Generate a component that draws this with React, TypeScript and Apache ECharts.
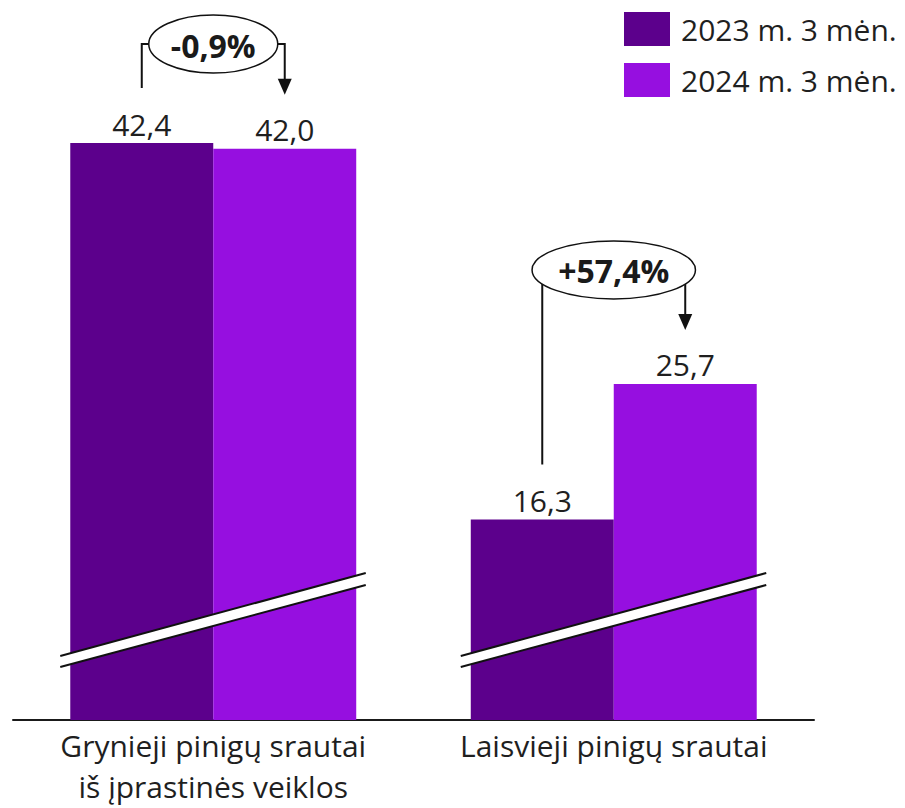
import React, { useEffect, useRef } from "react";
import * as echarts from "echarts";

const categories = ["Grynieji pinigų srautai\niš įprastinės veiklos", "Laisvieji pinigų srautai"];
const seriesNames = ["2023 m. 3 mėn.", "2024 m. 3 mėn."];
const values2023 = [42.4, 16.3];
const values2024 = [42.0, 25.7];
const changeLabels = ["-0,9%", "+57,4%"];

const COLORS = ["#5c008c", "#960fe0"];
const FONT = "Open Sans";
const TEXT = "#1f1f1f";
const AXIS_MIN = 2.4;
const AXIS_MAX = 42.4;
const GAP = 0.286;
// annotation layout (pixels)
const ELLIPSE_OFFSET = [-99, -114];
const ELLIPSE_RX = [64.5, 81.7];
const ELLIPSE_RY = 29;

const fmt = (v: number) => v.toFixed(1).replace(".", ",");

export default function App() {
  const ref = useRef<HTMLDivElement>(null);
  useEffect(() => {
    document.body.style.margin = "0";
    const chart = echarts.init(ref.current!, null, { renderer: "svg" });
    const barLabel = {
      show: true,
      position: "top",
      distance: 4,
      fontSize: 30,
      fontFamily: FONT,
      color: TEXT,
      formatter: (p: any) => fmt(p.value),
    };
    chart.setOption({
      animation: false,
      backgroundColor: "#ffffff",
      grid: { left: 13, right: 91, top: 143, bottom: 88, containLabel: false },
      legend: {
        orient: "vertical",
        left: 624,
        top: 12,
        itemWidth: 46,
        itemHeight: 34,
        itemGap: 17,
        icon: "rect",
        padding: 0,
        textStyle: { fontSize: 30, fontFamily: FONT, color: TEXT, padding: [0, 0, 0, 6] },
        data: seriesNames,
      },
      xAxis: {
        type: "category",
        data: categories,
        axisLine: { show: true, lineStyle: { color: "#1a1a1a", width: 2 } },
        axisTick: { show: false },
        axisLabel: { fontSize: 30, fontFamily: FONT, color: TEXT, lineHeight: 41, margin: 5, interval: 0 },
      },
      yAxis: { type: "value", min: AXIS_MIN, max: AXIS_MAX, show: false, splitLine: { show: false } },
      series: [
        {
          name: seriesNames[0],
          type: "bar",
          data: values2023,
          barCategoryGap: (GAP * 100).toFixed(1) + "%",
          barGap: "0%",
          itemStyle: { color: COLORS[0] },
          label: barLabel,
        },
        {
          name: seriesNames[1],
          type: "bar",
          data: values2024,
          barCategoryGap: (GAP * 100).toFixed(1) + "%",
          barGap: "0%",
          itemStyle: { color: COLORS[1] },
          label: barLabel,
        },
      ],
    });

    const cx0 = chart.convertToPixel({ xAxisIndex: 0 }, 0) as number;
    const cx1 = chart.convertToPixel({ xAxisIndex: 0 }, 1) as number;
    const band = cx1 - cx0;
    const barW = (band * (1 - GAP)) / 2;
    const yOf = (v: number) => chart.convertToPixel({ yAxisIndex: 0 }, v) as number;
    const yb = yOf(AXIS_MIN);

    const graphics: any[] = [];
    categories.forEach((_, i) => {
      const c = i === 0 ? cx0 : cx1;
      const x1 = c - barW / 2;
      const x2 = c + barW / 2;
      const t1 = yOf(values2023[i]);
      const t2 = yOf(values2024[i]);
      const tMax = Math.min(t1, t2);
      const cy = tMax + ELLIPSE_OFFSET[i];
      const rx = ELLIPSE_RX[i];
      const line = { stroke: "#111", lineWidth: 2, fill: null };
      // break band
      const L = c - 153;
      const R = c + 152.5;
      graphics.push({
        type: "polygon",
        z: 10,
        shape: { points: [[L, yb - 64], [R, yb - 147], [R, yb - 135], [L, yb - 53]] },
        style: { fill: "#ffffff" },
      });
      graphics.push({ type: "line", z: 11, shape: { x1: L, y1: yb - 64, x2: R, y2: yb - 147 }, style: line });
      graphics.push({ type: "line", z: 11, shape: { x1: L, y1: yb - 53, x2: R, y2: yb - 135 }, style: line });
      // annotation
      const tip = t2 - 54;
      graphics.push({
        type: "polyline",
        z: 10,
        shape: { points: [[x1, t1 - 55], [x1, cy], [c, cy]] },
        style: line,
      });
      graphics.push({
        type: "polyline",
        z: 10,
        shape: { points: [[c, cy], [x2, cy], [x2, tip - 14]] },
        style: line,
      });
      graphics.push({
        type: "polygon",
        z: 10,
        shape: { points: [[x2 - 7, tip - 16], [x2 + 7, tip - 16], [x2, tip]] },
        style: { fill: "#111" },
      });
      graphics.push({
        type: "ellipse",
        z: 12,
        shape: { cx: c, cy, rx, ry: ELLIPSE_RY },
        style: { fill: "#ffffff", stroke: "#111", lineWidth: 1.5 },
      });
      graphics.push({
        type: "text",
        z: 13,
        x: c,
        y: cy + 1,
        style: {
          text: changeLabels[i],
          fontSize: 32,
          fontWeight: "bold",
          fontFamily: FONT,
          fill: "#1a1a1a",
          align: "center",
          verticalAlign: "middle",
        },
      });
    });
    chart.setOption({ graphic: graphics });
    return () => chart.dispose();
  }, []);
  return <div ref={ref} style={{ width: 905, height: 808 }} />;
}
